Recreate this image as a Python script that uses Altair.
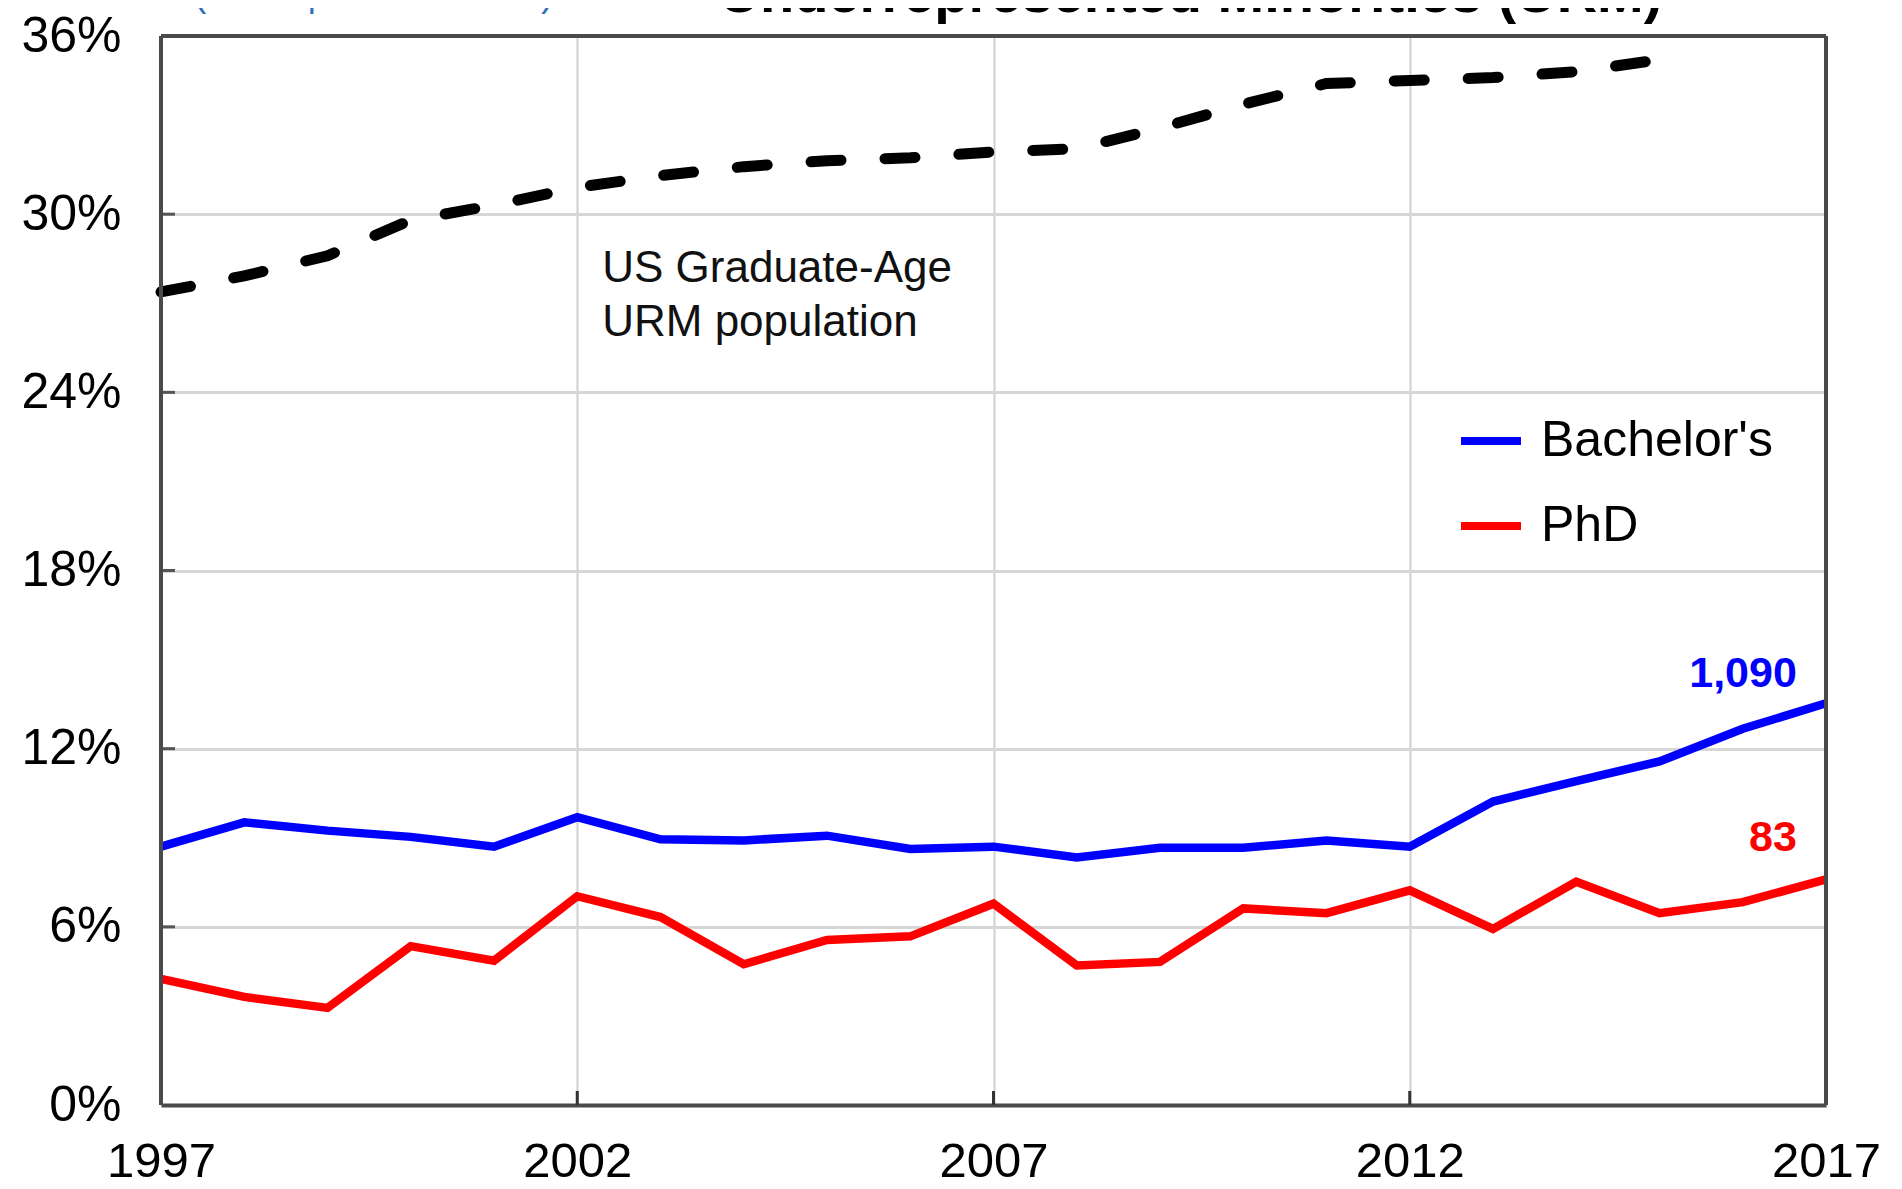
import altair as alt
import pandas as pd

# ---------------- data ----------------
years = list(range(1997, 2018))
bachelors = [8.70, 9.52, 9.24, 9.03, 8.70, 9.69, 8.95, 8.91, 9.07, 8.62, 8.70,
             8.34, 8.66, 8.66, 8.91, 8.70, 10.22, 10.91, 11.57, 12.67, 13.53]
phd = [4.25, 3.64, 3.27, 5.35, 4.86, 7.03, 6.33, 4.74, 5.56, 5.68, 6.78,
       4.70, 4.82, 6.62, 6.46, 7.23, 5.93, 7.52, 6.46, 6.83, 7.60]
urm_years = list(range(1997, 2016))
urm_pop = [27.38, 27.92, 28.6, 29.8, 30.3, 30.9, 31.3, 31.6, 31.8, 31.9,
           32.1, 32.2, 32.9, 33.7, 34.4, 34.5, 34.6, 34.8, 35.2]

series_names = ["Bachelor's", "PhD"]
series_colors = ["#0000ff", "#ff0000"]

y_ticks = [0, 6, 12, 18, 24, 30, 36]
x_ticks = [1997, 2002, 2007, 2012, 2017]

annot_lines = ["US Graduate-Age", "URM population"]
annot_x = [2002.3, 2002.3]
annot_y = [28.15, 26.35]

end_labels = ["1,090", "83"]
end_x = [2016.65, 2016.65]
end_y = [14.5, 9.0]

title_text = "Underrepresented Minorities (URM)"
subtitle_text = "(count | share of total)"

FONT = "Liberation Sans"
W, H = 1665, 1069
FRAME = "#4a4a4a"

# ---------------- frames ----------------
lines_df = pd.DataFrame({
    "year": years * 2,
    "value": bachelors + phd,
    "series": [series_names[0]] * len(years) + [series_names[1]] * len(years),
})
urm_df = pd.DataFrame({"year": urm_years, "value": urm_pop})
annot_df = pd.DataFrame({"x": annot_x, "y": annot_y, "t": annot_lines})
end_df = pd.DataFrame({"x": end_x, "y": end_y, "t": end_labels, "series": series_names})
ytick_df = pd.DataFrame({"v": y_ticks[1:-1]})
xtick_df = pd.DataFrame({"yr": x_ticks[1:-1]})
vframe_df = pd.DataFrame({"yr": [x_ticks[0], x_ticks[-1]]})
hframe_df = pd.DataFrame({"v": [y_ticks[-1]]})

x_scale = alt.Scale(domain=[1997, 2017], nice=False, zero=False)
y_scale = alt.Scale(domain=[0, 36], nice=False)

x_axis = alt.Axis(values=x_ticks, format="d", title=None, tickSize=0, labelPadding=32,
                  labelFontSize=49, labelFont=FONT, labelColor="#000",
                  grid=True, gridColor="#cfcfcf", gridWidth=2,
                  domain=True, domainColor=FRAME, domainWidth=4,
                  labelFlush=False, labelBound=False, labelOverlap=False)
y_axis = alt.Axis(values=y_ticks, title=None, tickSize=0, labelPadding=40,
                  labelFontSize=50, labelFont=FONT, labelColor="#000",
                  labelExpr="datum.value + '%'",
                  grid=True, gridColor="#d6d6d6", gridWidth=3,
                  domain=False, labelFlush=False, labelBound=False, labelOverlap=False)

base = alt.Chart(lines_df)

main = base.mark_line(strokeWidth=8.5, strokeJoin="miter").encode(
    x=alt.X("year:Q", scale=x_scale, axis=x_axis),
    y=alt.Y("value:Q", scale=y_scale, axis=y_axis),
    color=alt.Color("series:N",
                    scale=alt.Scale(domain=series_names, range=series_colors),
                    legend=alt.Legend(orient="none", legendX=1296, legendY=371, title=None,
                                      symbolType="stroke", symbolStrokeWidth=8,
                                      symbolSize=3600, labelFontSize=50, labelFont=FONT,
                                      labelColor="#000", rowPadding=26, labelOffset=16,
                                      labelLimit=0, padding=0)),
)

urm = alt.Chart(urm_df).mark_line(strokeWidth=11, color="#000", strokeDash=[30, 44],
                                  strokeCap="round").encode(
    x=alt.X("year:Q", scale=x_scale),
    y=alt.Y("value:Q", scale=y_scale),
)

annot = alt.Chart(annot_df).mark_text(align="left", baseline="middle", fontSize=44,
                                      font=FONT, color="#111").encode(
    x=alt.X("x:Q", scale=x_scale), y=alt.Y("y:Q", scale=y_scale), text="t:N")

ends = alt.Chart(end_df).mark_text(align="right", baseline="middle", fontSize=43,
                                   font=FONT, fontWeight="bold").encode(
    x=alt.X("x:Q", scale=x_scale), y=alt.Y("y:Q", scale=y_scale), text="t:N",
    color=alt.Color("series:N", scale=alt.Scale(domain=series_names, range=series_colors),
                    legend=None))

yticks = alt.Chart(ytick_df).mark_rule(color="#555", strokeWidth=3).encode(
    y=alt.Y("v:Q", scale=y_scale), x=alt.value(0), x2=alt.value(14))

xticks = alt.Chart(xtick_df).mark_rule(color="#333", strokeWidth=3).encode(
    x=alt.X("yr:Q", scale=x_scale), y=alt.value(H - 14), y2=alt.value(H))

vframe = alt.Chart(vframe_df).mark_rule(color=FRAME, strokeWidth=4).encode(
    x=alt.X("yr:Q", scale=x_scale))
hframe = alt.Chart(hframe_df).mark_rule(color=FRAME, strokeWidth=4).encode(
    y=alt.Y("v:Q", scale=y_scale))

title = alt.Chart(pd.DataFrame({"t": [title_text]})).mark_text(
    align="center", baseline="alphabetic", fontSize=56, font=FONT, fontWeight="bold",
    color="#000").encode(text="t:N", x=alt.value(1030), y=alt.value(-24))

subtitle = alt.Chart(pd.DataFrame({"t": [subtitle_text]})).mark_text(
    align="left", baseline="alphabetic", fontSize=37, font=FONT,
    color="#2e6db4").encode(text="t:N", x=alt.value(33), y=alt.value(-30))

chart = alt.layer(main, urm, annot, ends, yticks, xticks, vframe, hframe,
                  title, subtitle).properties(
    width=W, height=H,
    autosize=alt.AutoSizeParams(type="none"),
    padding={"left": 153, "top": 28, "right": 68, "bottom": 84},
).configure_view(stroke=None).configure(background="white")

chart.save("out.html", embed_options={"renderer": "svg", "actions": False})
